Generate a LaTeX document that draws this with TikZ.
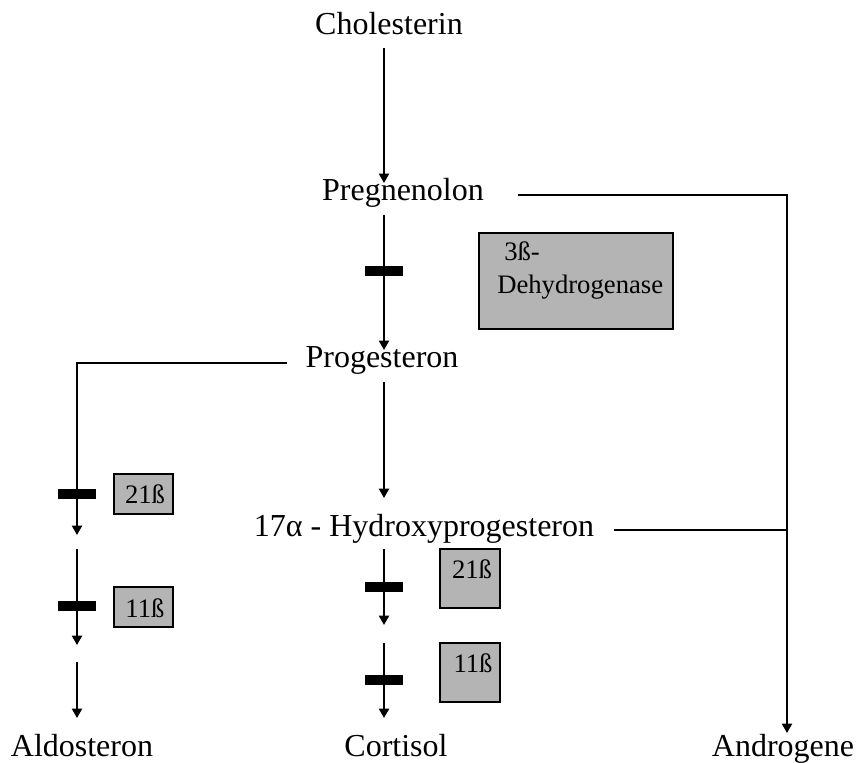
\documentclass[tikz,border=0pt]{standalone}
\usepackage{fontspec}
\setmainfont{Liberation Serif}
\usetikzlibrary{arrows.meta}
\definecolor{enzgray}{RGB}{180,180,180}
\tikzset{
  compound/.style={anchor=base, inner sep=0pt, font=\fontsize{24}{28}\selectfont},
  enzbox/.style={draw, fill=enzgray, line width=1.5pt, inner sep=0pt},
  enzlabel/.style={anchor=base, inner sep=0pt, font=\fontsize{20}{24}\selectfont},
  blockbar/.style={fill=black, inner sep=0pt, minimum width=29pt, minimum height=7.5pt},
  flow/.style={line width=1.5pt, -{Triangle[width=7.5pt,length=7pt]}},
  branch/.style={line width=1.5pt}
}
\begin{document}
\begin{tikzpicture}[x=0.75pt,y=-0.75pt]
  \useasboundingbox (0,0) rectangle (856,763);
  % compounds
  \node[compound] (chol) at (389,35) {Cholesterin};
  \node[compound] (preg) at (403,200) {Pregnenolon};
  \node[compound] (prog) at (382,367) {Progesteron};
  \node[compound] (hyd) at (424,536) {17α - Hydroxyprogesteron};
  \node[compound] (aldo) at (82,756) {Aldosteron};
  \node[compound] (cort) at (396,756) {Cortisol};
  \node[compound] (andr) at (783,756) {Androgene};
  % enzyme boxes
  \node[enzbox, minimum width=145.5pt, minimum height=72pt] (dh) at (576,281) {};
  \node[enzlabel, anchor=base west] (dh1) at (504,260) {3ß-};
  \node[enzlabel, anchor=base west] (dh2) at (497,293) {Dehydrogenase};
  \node[enzbox, minimum width=44.25pt, minimum height=30pt] (lA) at (143.5,494) {};
  \node[enzlabel] (lAt) at (145,503) {21ß};
  \node[enzbox, minimum width=44.25pt, minimum height=30pt] (lB) at (143.5,607) {};
  \node[enzlabel] (lBt) at (145,617) {11ß};
  \node[enzbox, minimum width=45pt, minimum height=44.25pt] (mA) at (470,578.5) {};
  \node[enzlabel] (mAt) at (472,578) {21ß};
  \node[enzbox, minimum width=45pt, minimum height=44.25pt] (mB) at (470,672.5) {};
  \node[enzlabel] (mBt) at (473,672) {11ß};
  % arrow ends
  \draw
    (384,48) coordinate (a1s)
    (384,183) coordinate (a1e)
    (384,215) coordinate (a2s)
    (384,350) coordinate (a2e)
    (384,382) coordinate (a3s)
    (384,498) coordinate (a3e)
    (384,549) coordinate (a4s)
    (384,625) coordinate (a4e)
    (384,643) coordinate (a5s)
    (384,718) coordinate (a5e)
    (287,363) coordinate (p1)
    (77,363) coordinate (p2)
    (77,535) coordinate (a6e)
    (77,549) coordinate (a7s)
    (77,645) coordinate (a7e)
    (77,662) coordinate (a8s)
    (77,718) coordinate (a8e)
    (518,195) coordinate (q1)
    (787,195) coordinate (q2)
    (614,530) coordinate (r1)
    (787,530) coordinate (r2)
    (787,733) coordinate (q3);
  \begin{scope}[flow]
    \draw (a1s) -- (a1e);
    \draw (a2s) -- (a2e);
    \draw (a3s) -- (a3e);
    \draw (a4s) -- (a4e);
    \draw (a5s) -- (a5e);
    \draw (p1) -- (p2) -- (a6e);
    \draw (a7s) -- (a7e);
    \draw (a8s) -- (a8e);
    \draw (q1) -- (q2) -- (q3);
  \end{scope}
  \draw[branch] (r1) -- (r2);
  % blocked steps
  \node[blockbar] (b1) at (384,271) {};
  \node[blockbar] (b2) at (77,494) {};
  \node[blockbar] (b3) at (77,606) {};
  \node[blockbar] (b4) at (384,587) {};
  \node[blockbar] (b5) at (384,680) {};
\end{tikzpicture}
\end{document}
